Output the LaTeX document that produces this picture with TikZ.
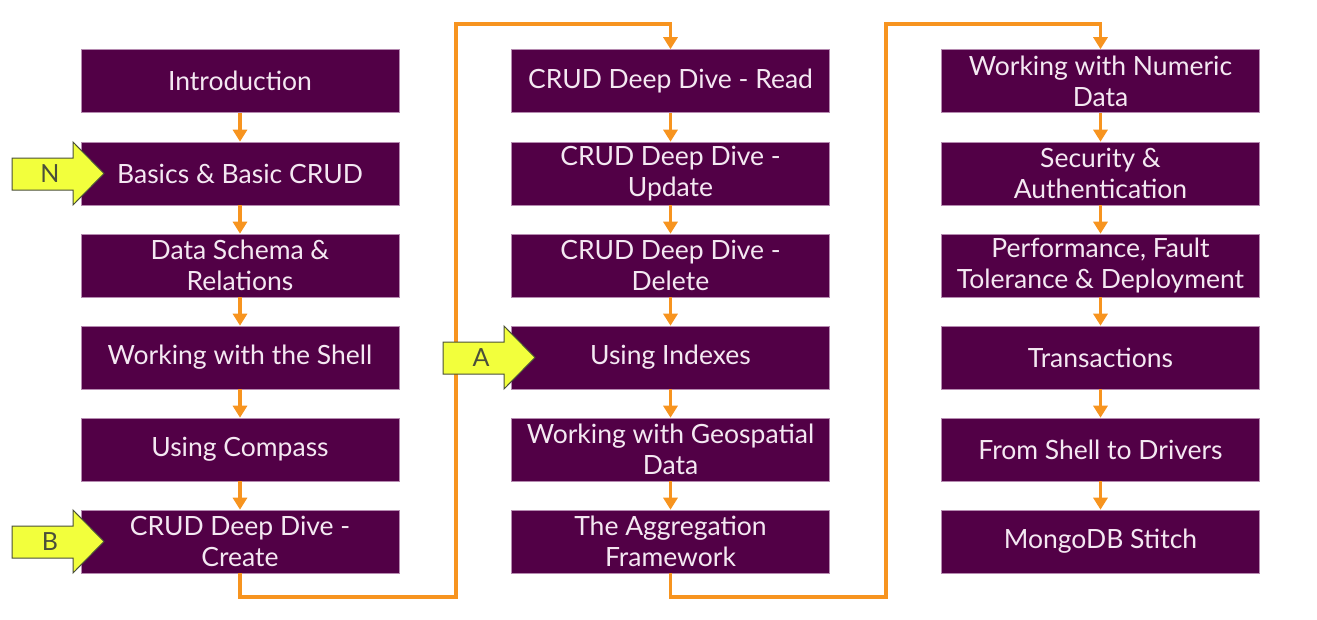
\documentclass[tikz,border=0pt]{standalone}
\usepackage{fontspec}
\setmainfont{Lato}
\usetikzlibrary{arrows.meta}
\definecolor{boxpurple}{HTML}{520046}
\definecolor{boxedge}{HTML}{B58AB0}
\definecolor{boxtext}{HTML}{F4E8F2}
\definecolor{flow}{HTML}{F7941F}
\definecolor{marker}{HTML}{F2FF3C}
\definecolor{markeredge}{HTML}{4A4F3A}
\tikzset{
  topic/.style={draw=boxedge, line width=0.6pt, fill=boxpurple, text=boxtext,
    minimum width=318pt, minimum height=63pt, inner sep=0pt, align=center,
    font=\fontsize{26.5}{31}\selectfont},
  flowline/.style={draw=flow, line width=3.3pt, -{Triangle[width=14pt,length=12pt]}},
  markershape/.style={fill=marker, draw=markeredge, line width=1pt, line join=miter},
  markertext/.style={text=markeredge, font=\fontsize{25}{29}\selectfont, inner sep=0pt}
}
\begin{document}
\begin{tikzpicture}[x=1pt, y=-1pt]
\useasboundingbox (0,0) rectangle (1317,619);
% column 1
\node[topic] (c1r1) at (240,81) {Introduction};
\node[topic] (c1r2) at (240,173.5) {Basics \& Basic CRUD};
\node[topic] (c1r3) at (240,265.5) {Data Schema \&\\Relations};
\node[topic] (c1r4) at (240,357.5) {Working with the Shell};
\node[topic] (c1r5) at (240,449.5) {Using Compass};
\node[topic] (c1r6) at (240,541.5) {CRUD Deep Dive -\\Create};
% column 2
\node[topic] (c2r1) at (670.5,81) {CRUD Deep Dive - Read};
\node[topic] (c2r2) at (670.5,173.5) {CRUD Deep Dive -\\Update};
\node[topic] (c2r3) at (670.5,265.5) {CRUD Deep Dive -\\Delete};
\node[topic] (c2r4) at (670.5,357.5) {Using Indexes};
\node[topic] (c2r5) at (670.5,449.5) {Working with Geospatial\\Data};
\node[topic] (c2r6) at (670.5,541.5) {The Aggregation\\Framework};
% column 3
\node[topic] (c3r1) at (1100.5,81) {Working with Numeric\\Data};
\node[topic] (c3r2) at (1100.5,173.5) {Security \&\\Authentication};
\node[topic] (c3r3) at (1100.5,265.5) {Performance, Fault\\Tolerance \& Deployment};
\node[topic] (c3r4) at (1100.5,357.5) {Transactions};
\node[topic] (c3r5) at (1100.5,449.5) {From Shell to Drivers};
\node[topic] (c3r6) at (1100.5,541.5) {MongoDB Stitch};
% vertical flow arrows
\foreach \c in {1,2,3}{
  \foreach \r/\n in {1/2,2/3,3/4,4/5,5/6}{
    \draw[flowline] (c\c r\r.south) -- (c\c r\n.north);
  }
}
% column-to-column connectors
\coordinate (k1a) at (240,597);
\coordinate (k1b) at (456,597);
\coordinate (k1c) at (456,24);
\coordinate (k1d) at (670.5,24);
\draw[flowline, line join=miter] (c1r6.south) -- (k1a) -- (k1b) -- (k1c) -- (k1d) -- (c2r1.north);
\coordinate (k2a) at (670.5,597);
\coordinate (k2b) at (886,597);
\coordinate (k2c) at (886,24);
\coordinate (k2d) at (1100.5,24);
\draw[flowline, line join=miter] (c2r6.south) -- (k2a) -- (k2b) -- (k2c) -- (k2d) -- (c3r1.north);
% yellow markers
\draw[markershape] (12,158) -- (73,158) -- (73,142) -- (104,173.5) -- (73,205) -- (73,190) -- (12,190) -- cycle;
\node[markertext] (mN) at (50,174) {N};
\draw[markershape] (12,526) -- (73,526) -- (73,510) -- (104,541.5) -- (73,573) -- (73,558) -- (12,558) -- cycle;
\node[markertext] (mB) at (50,542) {B};
\draw[markershape] (443,342) -- (504,342) -- (504,326) -- (535,357.5) -- (504,389) -- (504,374) -- (443,374) -- cycle;
\node[markertext] (mA) at (481,358) {A};
\end{tikzpicture}
\end{document}
